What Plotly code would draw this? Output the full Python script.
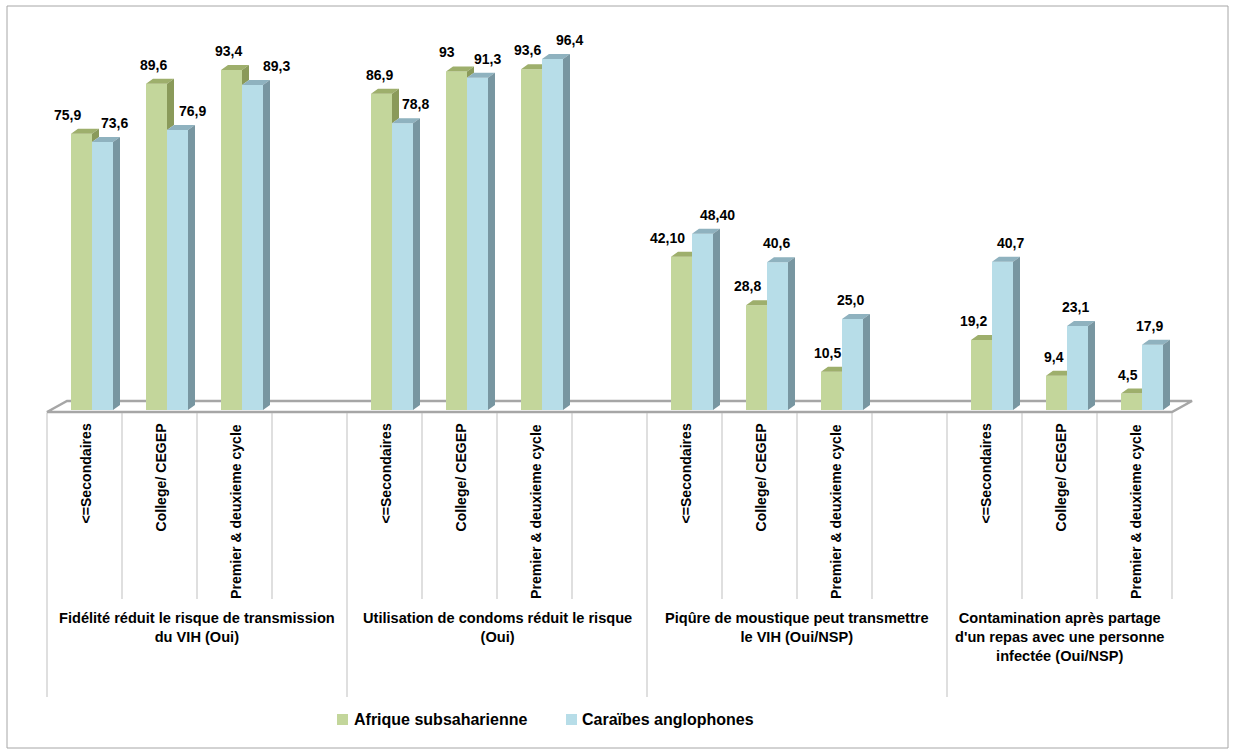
import plotly.graph_objects as go

# ---------------- data ----------------
GROUPS = [
    "Fidélité réduit le risque de transmission<br>du VIH (Oui)",
    "Utilisation de condoms réduit le risque<br>(Oui)",
    "Piqûre de moustique peut transmettre<br>le VIH (Oui/NSP)",
    "Contamination après partage<br>d'un repas avec une personne<br>infectée (Oui/NSP)",
]
LEVELS = ["<=Secondaires", "College/ CEGEP", "Premier & deuxieme cycle"]
SERIES = ["Afrique subsaharienne", "Caraïbes anglophones"]
AFRIQUE = [75.9, 89.6, 93.4, 86.9, 93.0, 93.6, 42.10, 28.8, 10.5, 19.2, 9.4, 4.5]
CARAIBES = [73.6, 76.9, 89.3, 78.8, 91.3, 96.4, 48.40, 40.6, 25.0, 40.7, 23.1, 17.9]
AFRIQUE_LABELS = ["75,9", "89,6", "93,4", "86,9", "93", "93,6", "42,10", "28,8", "10,5", "19,2", "9,4", "4,5"]
CARAIBES_LABELS = ["73,6", "76,9", "89,3", "78,8", "91,3", "96,4", "48,40", "40,6", "25,0", "40,7", "23,1", "17,9"]

# ---------------- layout constants (pixels) ----------------
W, H = 1236, 755
XPX0, SLOT_PX = 47, 75          # left edge of the category axis, width of one slot
YPX0, PPU = 410, 3.64           # pixel row of value 0, pixels per unit
SLOTS_PER_GROUP = 4
N_SLOTS = 15

def xd(px):
    return (px - XPX0) / SLOT_PX

def yd(py):
    return (YPX0 - py) / PPU

BAR_W = 0.28
OFF_G = 0.32
OFF_B = OFF_G + BAR_W
DX = 7 / SLOT_PX
DY = 5 / PPU

G_FRONT, G_TOP, G_SIDE = "#c3d69b", "#9eaf6c", "#8a9a5a"
B_FRONT, B_TOP, B_SIDE = "#b7dde8", "#8fb2bf", "#7896a1"
FONT = "Liberation Sans, Arial, sans-serif"
CAT_FONT_SIZE = 14.1
GROUP_FONT_SIZE = 14.6

# label nudges (px) for value labels
NUDGE_G = [-14, -3, -3, -2, -10, -4, -14, -9, -4, -8, -3, -4]
NUDGE_B = [12, 15, 24, 13, 10, 17, 15, -1, -2, 8, -2, -3]
LABEL_LIFT = 19  # px above bar front top

slots = [SLOTS_PER_GROUP * g + k for g in range(len(GROUPS)) for k in range(len(LEVELS))]

fig = go.Figure()
fig.add_trace(go.Bar(x=slots, y=AFRIQUE, width=BAR_W, offset=OFF_G, name=SERIES[0],
                     marker=dict(color=G_FRONT, line=dict(width=0)), hoverinfo="skip"))
fig.add_trace(go.Bar(x=slots, y=CARAIBES, width=BAR_W, offset=OFF_B, name=SERIES[1],
                     marker=dict(color=B_FRONT, line=dict(width=0)), hoverinfo="skip"))

def add_polys(polys, color):
    xs, ys = [], []
    for p in polys:
        for (a, b) in p:
            xs.append(a)
            ys.append(b)
        xs.append(p[0][0]); ys.append(p[0][1])
        xs.append(None); ys.append(None)
    fig.add_trace(go.Scatter(x=xs, y=ys, mode="lines", fill="toself", fillcolor=color,
                             line=dict(width=0, color=color), hoverinfo="skip", showlegend=False))

g_top, g_side, b_top, b_side = [], [], [], []
for s, h, b in zip(slots, AFRIQUE, CARAIBES):
    gx0 = s + OFF_G
    gx1 = gx0 + BAR_W
    bx0 = gx1
    bx1 = bx0 + BAR_W
    if b > h:
        g_top.append([(gx0, h), (gx1, h), (gx1, h + DY), (gx0 + DX, h + DY)])
    else:
        g_top.append([(gx0, h), (gx1, h), (gx1 + DX, h + DY), (gx0 + DX, h + DY)])
        g_side.append([(gx1, b), (gx1, h), (gx1 + DX, h + DY), (gx1 + DX, b + DY)])
    b_top.append([(bx0, b), (bx1, b), (bx1 + DX, b + DY), (bx0 + DX, b + DY)])
    b_side.append([(bx1, 0), (bx1, b), (bx1 + DX, b + DY), (bx1 + DX, DY)])

add_polys(g_top, G_TOP)
add_polys(g_side, G_SIDE)
add_polys(b_top, B_TOP)
add_polys(b_side, B_SIDE)

annotations = []
# value labels
for i, s in enumerate(slots):
    gc = s + OFF_G + BAR_W / 2
    bc = s + OFF_B + BAR_W / 2
    annotations.append(dict(x=gc + NUDGE_G[i] / SLOT_PX, y=AFRIQUE[i] + LABEL_LIFT / PPU,
                            text="<b>%s</b>" % AFRIQUE_LABELS[i], showarrow=False,
                            xanchor="center", yanchor="middle",
                            font=dict(family=FONT, size=14, color="#000")))
    annotations.append(dict(x=bc + NUDGE_B[i] / SLOT_PX, y=CARAIBES[i] + LABEL_LIFT / PPU,
                            text="<b>%s</b>" % CARAIBES_LABELS[i], showarrow=False,
                            xanchor="center", yanchor="middle",
                            font=dict(family=FONT, size=14, color="#000")))

# category labels (rotated)
for g in range(len(GROUPS)):
    for k, lev in enumerate(LEVELS):
        s = SLOTS_PER_GROUP * g + k
        annotations.append(dict(x=s + 0.5 + 1 / SLOT_PX, y=yd(422), text="<b>%s</b>" % lev,
                                textangle=-90, showarrow=False, xanchor="center", yanchor="top",
                                font=dict(family=FONT, size=CAT_FONT_SIZE, color="#000")))
    g_start = SLOTS_PER_GROUP * g
    g_end = min(g_start + SLOTS_PER_GROUP, N_SLOTS)
    annotations.append(dict(x=(g_start + g_end) / 2, y=yd(608), text="<b>%s</b>" % GROUPS[g],
                            showarrow=False, xanchor="center", yanchor="top", align="center",
                            font=dict(family=FONT, size=GROUP_FONT_SIZE, color="#000")))

# legend
LEG = [(337, 352, G_FRONT, SERIES[0]), (566, 580, B_FRONT, SERIES[1])]
shapes = []
for sq_x, tx, col, name in LEG:
    shapes.append(dict(type="rect", xref="x", yref="y", x0=xd(sq_x), x1=xd(sq_x + 11),
                       y0=yd(714), y1=yd(725), fillcolor=col, line=dict(width=0)))
    annotations.append(dict(x=xd(tx), y=yd(719.5), text="<b>%s</b>" % name, showarrow=False,
                            xanchor="left", yanchor="middle",
                            font=dict(family=FONT, size=16, color="#000")))

# floor
floor_path = "M %f,%f L %f,%f L %f,%f L %f,%f Z" % (
    xd(47), yd(412), xd(1172), yd(412), xd(1192), yd(401), xd(67), yd(401))
shapes.append(dict(type="path", path=floor_path, xref="x", yref="y", layer="below",
                   fillcolor="#ffffff", line=dict(color="#a6a6a6", width=2.5)))

# category separators
for bnd in range(N_SLOTS + 1):
    long_line = (bnd % SLOTS_PER_GROUP == 0)
    shapes.append(dict(type="line", xref="x", yref="y", x0=bnd, x1=bnd, y0=yd(413),
                       y1=yd(697 if long_line else 599), line=dict(color="#bfbfbf", width=1)))

# chart border
shapes.append(dict(type="rect", xref="x", yref="y", x0=xd(7), x1=xd(1228), y0=yd(6), y1=yd(748),
                   line=dict(color="#a6a6a6", width=1), fillcolor="rgba(0,0,0,0)", layer="below"))

fig.update_layout(
    width=W, height=H, autosize=False,
    margin=dict(l=0, r=0, t=0, b=0, pad=0),
    paper_bgcolor="#ffffff", plot_bgcolor="#ffffff",
    barmode="overlay", showlegend=False,
    xaxis=dict(range=[xd(0), xd(W)], visible=False, fixedrange=True),
    yaxis=dict(range=[yd(H), yd(0)], visible=False, fixedrange=True),
    annotations=annotations, shapes=shapes,
)

fig.write_html("out.html", config={"displayModeBar": False})
